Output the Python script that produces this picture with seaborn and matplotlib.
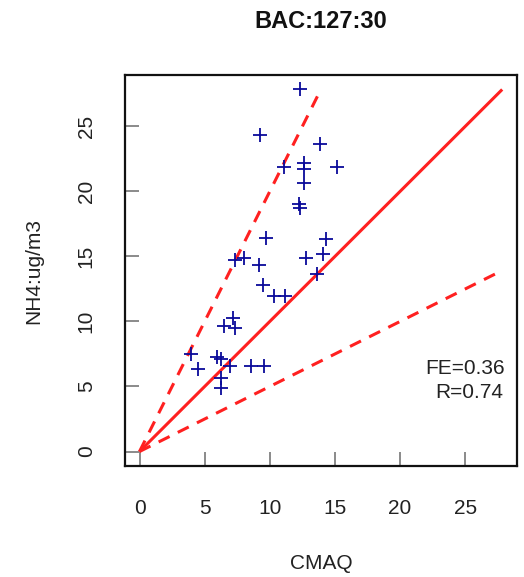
import matplotlib
matplotlib.use("Agg")
import matplotlib.pyplot as plt
import seaborn as sns
import numpy as np
import pandas as pd

# Data
cmaq = [12.32, 9.28, 13.85, 11.12, 12.65, 12.65, 15.16, 12.65, 12.27, 12.32,
        9.71, 14.31, 14.08, 7.36, 8.00, 9.20, 12.78, 13.60,
        9.46, 10.35, 11.17, 7.16, 6.52, 7.34, 3.96, 5.96, 6.26, 4.48,
        6.98, 8.56, 9.59, 6.26, 6.26]
obs = [27.84, 24.36, 23.65, 21.88, 22.21, 21.70, 21.88, 20.68, 19.02, 18.76,
       16.39, 16.31, 15.18, 14.72, 14.85, 14.34, 14.85, 13.65,
       12.81, 11.99, 11.99, 10.30, 9.69, 9.53, 7.52, 7.24, 7.13, 6.37,
       6.60, 6.54, 6.60, 5.65, 4.88]
title = "BAC:127:30"
fe_text = "FE=0.36"
r_text = "R=0.74"
ticks = [0, 5, 10, 15, 20, 25]

sns.set_theme(style="white")
plt.rcParams['font.family'] = ['Liberation Sans', 'DejaVu Sans']

W, H = 524, 577
fig = plt.figure(figsize=(W / 100, H / 100), dpi=100)
ax = fig.add_axes([125 / W, 1 - 466 / H, (516.7 - 125) / W, (466 - 75) / H])

df = pd.DataFrame({"CMAQ": cmaq, "OBS": obs})
mx = max(max(cmaq), max(obs))

# reference lines
ax.plot([0, mx], [0, mx], color="#ff2020", lw=2.2, solid_capstyle="butt")
ax.plot([0, mx / 2], [0, mx], color="#ff2020", lw=2.2, ls=(0, (4, 3)))
ax.plot([0, mx], [0, mx / 2], color="#ff2020", lw=2.2, ls=(0, (4, 3)))

sns.scatterplot(data=df, x="CMAQ", y="OBS", marker="+", s=110, color="#0a0a9a",
                linewidth=1.3, ax=ax, zorder=3)

pad = 0.04 * mx
ax.set_xlim(-pad, mx + pad)
ax.set_ylim(-pad, mx + pad)
ax.set_xticks(ticks)
ax.set_yticks(ticks)
ax.set_xticklabels([str(t) for t in ticks], fontsize=15)
ax.set_yticklabels([str(t) for t in ticks], fontsize=15, rotation=90, va="center")
ax.tick_params(axis="both", bottom=True, left=True, direction="in", length=10,
               width=1.2, color="#777777", labelcolor="#222222")
ax.tick_params(axis="x", pad=24)
ax.tick_params(axis="y", pad=21)
for s in ax.spines.values():
    s.set_color("#111111")
    s.set_linewidth(1.6)
    s.set_visible(True)

ax.set_xlabel("CMAQ", fontsize=15, color="#222222", labelpad=26)
ax.set_ylabel("NH4:ug/m3", fontsize=15, color="#222222", labelpad=24)
fig.text(321 / W, 1 - 21 / H, title, ha="center", va="center", fontsize=17,
         fontweight="bold", color="#111111")

ax.text(0.97, (466 - 368) / (466 - 75), fe_text, transform=ax.transAxes,
        ha="right", va="center", fontsize=15, color="#222222")
ax.text(0.965, (466 - 393) / (466 - 75), r_text, transform=ax.transAxes,
        ha="right", va="center", fontsize=15, color="#222222")

fig.savefig("out.png", dpi=100)
